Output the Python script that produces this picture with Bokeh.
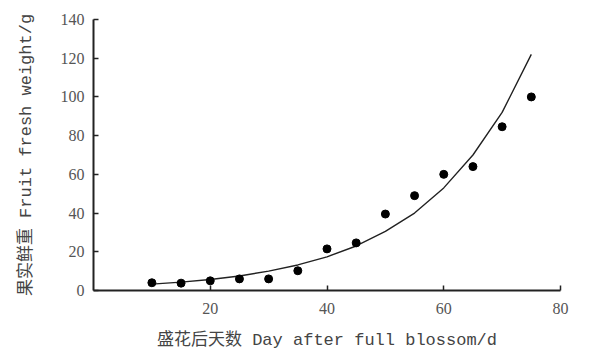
from bokeh.plotting import figure
from bokeh.models import FixedTicker, Range1d
from bokeh.embed import file_html
from bokeh.resources import INLINE

days = [10, 15, 20, 25, 30, 35, 40, 45, 50, 55, 60, 65, 70, 75]
weight = [4.0, 3.8, 5.0, 6.0, 6.0, 10.2, 21.5, 24.6, 39.5, 49.0, 60.0, 64.0, 84.6, 100.0]
fit_days = [10, 15, 20, 25, 30, 35, 40, 45, 50, 55, 60, 65, 70, 75]
fit_weight = [3.3, 4.3, 5.7, 7.5, 10.0, 13.2, 17.4, 23.0, 30.5, 40.0, 53.0, 70.0, 92.0, 122.0]
x_ticks = [20, 40, 60, 80]
y_ticks = [0, 20, 40, 60, 80, 100, 120, 140]

p = figure(width=590, height=352, output_backend="svg", toolbar_location=None,
           x_range=Range1d(0, 80), y_range=Range1d(0, 140),
           min_border_left=93, min_border_right=30, min_border_top=19, min_border_bottom=60)
p.grid.visible = False
p.outline_line_color = None
p.background_fill_color = "white"

p.line(fit_days, fit_weight, line_color="#222222", line_width=1.4)
p.scatter(days, weight, marker="circle", size=8, fill_color="black", line_color="black")

p.xaxis.ticker = FixedTicker(ticks=x_ticks)
p.yaxis.ticker = FixedTicker(ticks=y_ticks)
for ax in (p.xaxis, p.yaxis):
    ax.axis_line_width = 2
    ax.axis_line_color = "#222222"
    ax.major_tick_in = 5
    ax.major_tick_out = 0
    ax.major_tick_line_width = 1.5
    ax.major_tick_line_color = "#222222"
    ax.minor_tick_line_color = None
    ax.major_label_text_font = "Liberation Serif"
    ax.major_label_text_font_size = "16px"
    ax.major_label_text_color = "#555555"
    ax.axis_label_text_font = "Liberation Mono, Noto Sans CJK SC"
    ax.axis_label_text_font_size = "17px"
    ax.axis_label_text_font_style = "normal"
    ax.axis_label_text_color = "#444444"

p.xaxis.axis_label = "盛花后天数 Day after full blossom/d"
p.yaxis.axis_label = "果实鲜重 Fruit fresh weight/g"
p.yaxis.major_label_standoff = 9
p.xaxis.major_label_standoff = 12
p.xaxis.axis_label_standoff = 14
p.yaxis.axis_label_standoff = 22

open("out.html", "w").write(file_html(p, INLINE))
